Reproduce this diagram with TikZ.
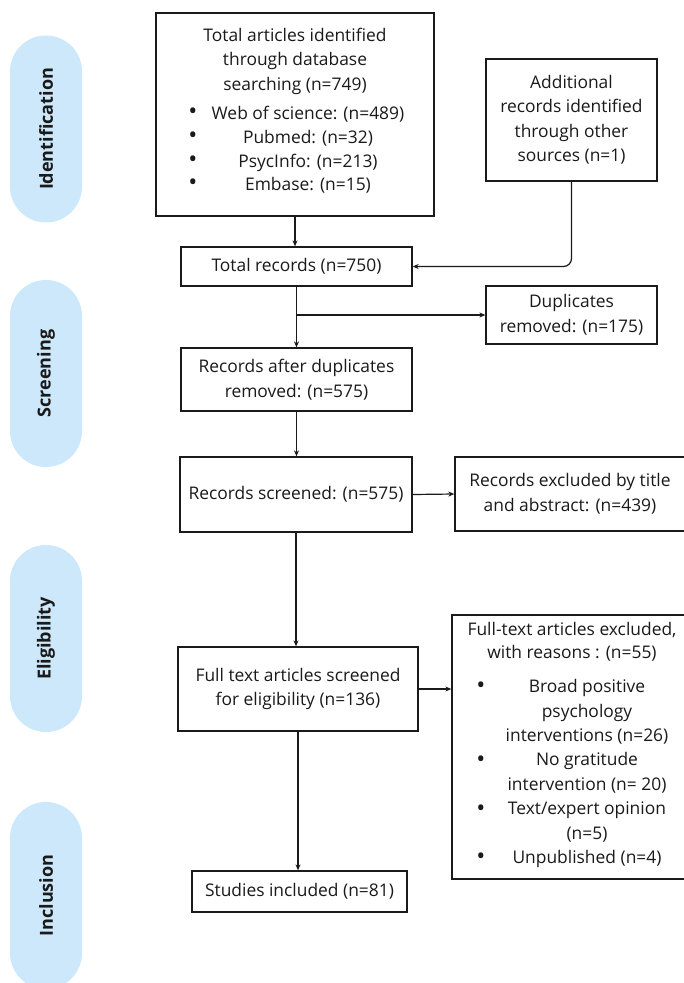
\documentclass[tikz,border=0pt]{standalone}
\usepackage{fontspec}
\setmainfont{Open Sans}
\usetikzlibrary{arrows.meta,positioning}

\definecolor{stageblue}{HTML}{CCE8FA}
\definecolor{ink}{HTML}{1A1A1A}

\tikzset{
  stagepill/.style={rotate=90, fill=stageblue, rounded corners=35.9pt, minimum width=187pt,
    minimum height=72pt, inner sep=0pt, text=ink, font=\fontsize{18}{20}\selectfont\bfseries},
  txt/.style={align=center, inner sep=0pt, text=ink, font=\fontsize{17.4}{24.5}\selectfont},
  dot/.style={txt, font=\fontsize{24}{24}\selectfont},
  box/.style={txt, draw=ink, line width=1.3pt, fill=white},
  arr/.style={-{Stealth[length=6pt,width=5pt]}, line width=1.2pt, draw=ink},
}

\begin{document}
\begin{tikzpicture}[x=1pt,y=-1pt]
\useasboundingbox (0,0) rectangle (684,983);

% stages on the left
\node[stagepill] (stident) at (46,129) {Identification};
\node[stagepill] (stscreen) at (46,373.5) {Screening};
\node[stagepill] (stelig) at (46,638.5) {Eligibility};
\node[stagepill] (stincl) at (46,895.5) {Inclusion};

% boxes
\node[box, minimum width=278pt, minimum height=203pt] (src) at (295,114.5) {};
\node[txt] (srchead) at (295,61) {Total articles identified\\through database\\searching (n=749)};
\node[txt, font=\fontsize{17.4}{23.7}\selectfont] (srclist) at (308,150)
  {Web of science: (n=489)\\Pubmed: (n=32)\\PsycInfo: (n=213)\\Embase: (n=15)};
\node[dot] (srcdota) at (193,114) {\textbullet};
\node[dot] (srcdotb) at (193,138) {\textbullet};
\node[dot] (srcdotc) at (193,162) {\textbullet};
\node[dot] (srcdotd) at (193,185) {\textbullet};

\node[box, minimum width=171pt, minimum height=122pt] (other) at (571.5,120)
  {Additional\\records identified\\through other\\sources (n=1)};
\node[box, minimum width=231pt, minimum height=39pt] (total) at (296.5,266.5) {Total records (n=750)};
\node[box, minimum width=171pt, minimum height=58pt] (dupl) at (571.5,315) {Duplicates\\removed: (n=175)};
\node[box, minimum width=231pt, minimum height=63pt] (afterdup) at (296.5,379.5)
  {Records after duplicates\\removed: (n=575)};
\node[box, minimum width=232pt, minimum height=75pt] (screened) at (296,494.5) {Records screened: (n=575)};
\node[box, minimum width=230pt, minimum height=74pt] (exclta) at (570,494)
  {Records excluded by title\\and abstract: (n=439)};
\node[box, minimum width=240pt, minimum height=84pt] (fulltext) at (298,689)
  {Full text articles screened\\for eligibility (n=136)};
\node[box, minimum width=233pt, minimum height=264pt] (exclft) at (568.5,747) {};
\node[txt, font=\fontsize{17.4}{22.5}\selectfont] (exclfthead) at (572,642)
  {Full-text articles excluded,\\with reasons : (n=55)};
\node[txt, font=\fontsize{17.4}{24.4}\selectfont] (exclftlist) at (587,773.5)
  {Broad positive\\psychology\\interventions (n=26)\\No gratitude\\intervention (n= 20)\\Text/expert opinion\\(n=5)\\Unpublished (n=4)};
\node[dot] (ftdota) at (481,688) {\textbullet};
\node[dot] (ftdotb) at (481,762) {\textbullet};
\node[dot] (ftdotc) at (481,811) {\textbullet};
\node[dot] (ftdotd) at (481,859) {\textbullet};
\node[box, minimum width=215pt, minimum height=41pt] (included) at (299.5,891.5) {Studies included (n=81)};

% connectors
\draw[arr] (src.south) -- (src.south |- total.north);
\draw[arr, rounded corners=8pt] (other.south) |- (total.east);
\draw[arr] (total.south) -- (afterdup.north);
\draw[arr] (total.south |- dupl.west) -- (dupl.west);
\draw[arr] (afterdup.south) -- (afterdup.south |- screened.north);
\draw[arr] (screened.east) -- (exclta.west);
\draw[arr] (screened.south) -- (screened.south |- fulltext.north);
\draw[arr] (fulltext.east) -- (fulltext.east -| exclft.west);
\draw[arr] (fulltext.south) -- (fulltext.south |- included.north);
\end{tikzpicture}
\end{document}
